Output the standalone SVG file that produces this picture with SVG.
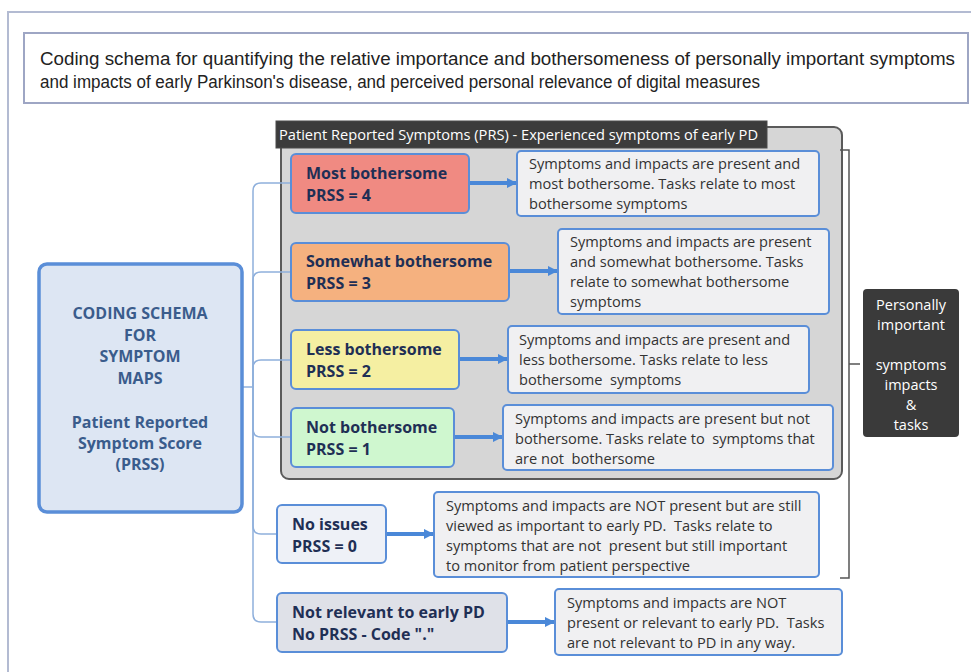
<svg xmlns="http://www.w3.org/2000/svg" width="971" height="672" viewBox="0 0 971 672">
<defs>
<marker id="ah" viewBox="0 0 10 10" refX="9" refY="5" markerWidth="2.6" markerHeight="2.6" orient="auto" markerUnits="strokeWidth">
<path d="M0,0 L10,5 L0,10 z" fill="#4a88d8"/>
</marker>
</defs>
<style>
.frame{fill:none;stroke:#b3bbd2;stroke-width:2}
.title{fill:#fff;stroke:#9ea6c4;stroke-width:2}
.ttl{font-family:"Liberation Sans",Arial,sans-serif;font-size:17.5px;fill:#222}
.cont{fill:#d6d6d6;stroke:#5a5a5a;stroke-width:2}
.hdr{fill:#3c3c3c;stroke:#4a4a4a;stroke-width:1}
.hdrt{font-family:"Open Sans",sans-serif;font-size:14px;fill:#fff}
.node{stroke:#5a8ed8;stroke-width:2}
.nt{font-family:"Open Sans",sans-serif;font-weight:bold;font-size:16px;fill:#1f2f55}
.desc{fill:#f0f0f2;stroke:#5a8ed8;stroke-width:2}
.dt{font-family:"Open Sans",sans-serif;font-size:14.6px;fill:#333;white-space:pre}
.root{fill:#dde6f3;stroke:#5a8ed8;stroke-width:3.5}
.rt{font-family:"Open Sans",sans-serif;font-weight:bold;font-size:16px;fill:#3a5c8c;text-anchor:middle}
.pi{fill:#3a3a3a}
.pit{font-family:"Open Sans",sans-serif;font-size:14.5px;fill:#fff;text-anchor:middle}
.br{fill:none;stroke:#8fb0dc;stroke-width:1.5}
.arr{fill:none;stroke:#4a88d8;stroke-width:4;marker-end:url(#ah)}
.brk{fill:none;stroke:#555;stroke-width:1.5}
</style>
<rect x="0" y="0" width="971" height="672" fill="#fff"/>
<path class="frame" d="M8,672 V12 H971"/>
<g id="title">
<rect class="title" x="24" y="33" width="944" height="70"/>
<text class="ttl" x="40" y="65" textLength="915" lengthAdjust="spacingAndGlyphs">Coding schema for quantifying the relative importance and bothersomeness of personally important symptoms</text>
<text class="ttl" x="40" y="88" textLength="720" lengthAdjust="spacingAndGlyphs">and impacts of early Parkinson's disease, and perceived personal relevance of digital measures</text>
</g>
<g id="prs-container">
<rect class="cont" x="281" y="127" width="561" height="352" rx="8"/>
<rect class="hdr" x="276" y="121" width="491" height="27"/>
<text class="hdrt" x="279" y="140" textLength="479" lengthAdjust="spacingAndGlyphs">Patient Reported Symptoms (PRS) - Experienced symptoms of early PD</text>
</g>
<g id="connectors">
<path class="br" d="M242,387 H253"/>
<path class="br" d="M253,387 V191 Q253,183 261,183 H291"/>
<path class="br" d="M253,387 V280 Q253,272 261,272 H291"/>
<path class="br" d="M253,387 V368 Q253,360 261,360 H291"/>
<path class="br" d="M253,387 V429 Q253,437 261,437 H291"/>
<path class="br" d="M253,387 V526 Q253,534 261,534 H277"/>
<path class="br" d="M253,387 V614 Q253,622 261,622 H277"/>
<path class="arr" d="M469,183 H516"/>
<path class="arr" d="M509,271 H557"/>
<path class="arr" d="M459,359 H507"/>
<path class="arr" d="M454,437 H502"/>
<path class="arr" d="M386,534 H433"/>
<path class="arr" d="M507,622 H554"/>
<path class="brk" d="M840,150 H849 V578 H840 M849,364 H860"/>
</g>
<g id="root">
<rect class="root" x="39" y="264" width="203" height="248" rx="8"/>
<text class="rt" x="140" y="319">CODING SCHEMA</text>
<text class="rt" x="140" y="341">FOR</text>
<text class="rt" x="140" y="362">SYMPTOM</text>
<text class="rt" x="140" y="384">MAPS</text>
<text class="rt" x="140" y="428">Patient Reported</text>
<text class="rt" x="140" y="449">Symptom Score</text>
<text class="rt" x="140" y="470">(PRSS)</text>
</g>
<g id="n4">
<rect class="node" x="291" y="154" width="178" height="59" rx="5" fill="#f08a82"/>
<text class="nt" x="306" y="179">Most bothersome</text>
<text class="nt" x="306" y="201">PRSS = 4</text>
</g>
<g id="d4">
<rect class="desc" x="517" y="151" width="302" height="65" rx="4"/>
<text class="dt" x="529" y="169">Symptoms and impacts are present and</text>
<text class="dt" x="529" y="189">most bothersome. Tasks relate to most</text>
<text class="dt" x="529" y="209">bothersome symptoms</text>
</g>
<g id="n3">
<rect class="node" x="291" y="243" width="218" height="58" rx="5" fill="#f5b17f"/>
<text class="nt" x="306" y="267">Somewhat bothersome</text>
<text class="nt" x="306" y="289">PRSS = 3</text>
</g>
<g id="d3">
<rect class="desc" x="558" y="229" width="271" height="85" rx="4"/>
<text class="dt" x="570" y="247">Symptoms and impacts are present</text>
<text class="dt" x="570" y="267">and somewhat bothersome. Tasks</text>
<text class="dt" x="570" y="287">relate to somewhat bothersome</text>
<text class="dt" x="570" y="307">symptoms</text>
</g>
<g id="n2">
<rect class="node" x="291" y="330" width="168" height="59" rx="5" fill="#f5efa2"/>
<text class="nt" x="306" y="355">Less bothersome</text>
<text class="nt" x="306" y="377">PRSS = 2</text>
</g>
<g id="d2">
<rect class="desc" x="508" y="326" width="301" height="67" rx="4"/>
<text class="dt" x="519" y="345">Symptoms and impacts are present and</text>
<text class="dt" x="519" y="365">less bothersome. Tasks relate to less</text>
<text class="dt" x="519" y="385">bothersome  symptoms</text>
</g>
<g id="n1">
<rect class="node" x="291" y="408" width="163" height="59" rx="5" fill="#cff7cf"/>
<text class="nt" x="306" y="433">Not bothersome</text>
<text class="nt" x="306" y="455">PRSS = 1</text>
</g>
<g id="d1">
<rect class="desc" x="503" y="405" width="330" height="65" rx="4"/>
<text class="dt" x="515" y="424">Symptoms and impacts are present but not</text>
<text class="dt" x="515" y="444">bothersome. Tasks relate to  symptoms that</text>
<text class="dt" x="515" y="464">are not  bothersome</text>
</g>
<g id="n0">
<rect class="node" x="277" y="505" width="109" height="58" rx="5" fill="#eef1f7"/>
<text class="nt" x="292" y="530">No issues</text>
<text class="nt" x="292" y="552">PRSS = 0</text>
</g>
<g id="d0">
<rect class="desc" x="434" y="492" width="385" height="85" rx="4"/>
<text class="dt" x="446" y="511">Symptoms and impacts are NOT present but are still</text>
<text class="dt" x="446" y="531">viewed as important to early PD.  Tasks relate to</text>
<text class="dt" x="446" y="551">symptoms that are not  present but still important</text>
<text class="dt" x="446" y="571">to monitor from patient perspective</text>
</g>
<g id="nx">
<rect class="node" x="277" y="593" width="230" height="59" rx="5" fill="#dfe1e8"/>
<text class="nt" x="292" y="618">Not relevant to early PD</text>
<text class="nt" x="292" y="640">No PRSS - Code "."</text>
</g>
<g id="dx">
<rect class="desc" x="555" y="589" width="287" height="66" rx="4"/>
<text class="dt" x="567" y="608">Symptoms and impacts are NOT</text>
<text class="dt" x="567" y="628">present or relevant to early PD.  Tasks</text>
<text class="dt" x="567" y="648">are not relevant to PD in any way.</text>
</g>
<g id="personal">
<rect class="pi" x="863" y="289" width="96" height="148" rx="4"/>
<text class="pit" x="911" y="310">Personally</text>
<text class="pit" x="911" y="330">important</text>
<text class="pit" x="911" y="370">symptoms</text>
<text class="pit" x="911" y="390">impacts</text>
<text class="pit" x="911" y="410">&amp;</text>
<text class="pit" x="911" y="430">tasks</text>
</g>
</svg>
